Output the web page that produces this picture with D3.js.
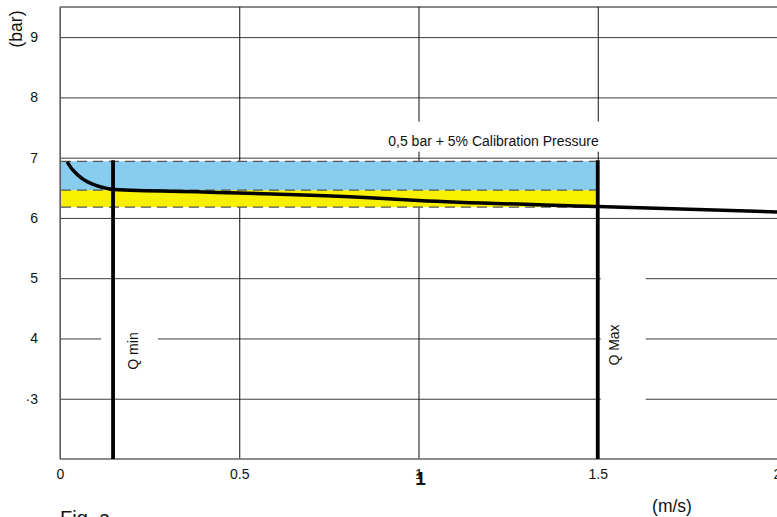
<!DOCTYPE html>
<html lang="en">
<head>
<meta charset="UTF-8">
<title>Calibration Pressure</title>
<script src="https://cdn.jsdelivr.net/npm/d3@7"></script>
<style>
    body { margin: 0; background: #fff; }
    svg text { font-family: "Liberation Sans", Arial, sans-serif; fill: #111; }
    .grid path { display: none; }
    .gridY line { stroke: #3a3a3a; stroke-width: 1; }
    .gridX line { stroke: #111; stroke-width: 1; }
    .grid text { font-size: 14px; font-family: "Liberation Sans", Arial, sans-serif; }
</style>
</head>
<body>
<svg width="777" height="517"></svg>
<script>
    // tick values and labels
    var xTicks = [0, 0.5, 1, 1.5, 2];
    var xTickLabels = ["0", "0.5", "1", "1.5", "2"];
    var yTicks = [3, 4, 5, 6, 7, 8, 9];
    var yTickLabels = ["\u00b73", "4", "5", "6", "7", "8", "9"];

    // pressure curve (m/s -> bar)
    var speed = [0.02, 0.035, 0.05, 0.065, 0.08, 0.1, 0.13, 0.15, 0.4, 0.85, 1.0, 1.5, 2.0];
    var pressure = [6.93, 6.80, 6.71, 6.64, 6.59, 6.54, 6.49, 6.47, 6.43, 6.34, 6.29, 6.19, 6.10];

    // tolerance bands (bar)
    var bandNames = ["blue", "yellow"];
    var bandLow = [6.46, 6.18];
    var bandHigh = [6.94, 6.46];
    var bandColors = ["#88cdef", "#f7f000"];
    var dashLevels = [6.94, 6.46, 6.18];

    // flow limits
    var qNames = ["Q min", "Q Max"];
    var qSpeed = [0.148, 1.5];

    var svg = d3.select("svg");
    var mLeft = 60, mRight = 777, mTop = 7, mBottom = 459;

    var x = d3.scaleLinear().domain([0, 2]).range([mLeft, mRight]);
    var y = d3.scaleLinear().domain([2, 9.5]).range([mBottom, mTop]);

    // grid + tick labels
    svg.append("g")
        .attr("class", "grid gridY")
        .attr("transform", "translate(" + mLeft + ",0)")
        .call(d3.axisLeft(y)
            .tickValues(yTicks)
            .tickFormat(function (d, i) { return yTickLabels[i]; })
            .tickSize(-(mRight - mLeft))
            .tickPadding(22))
        .attr("font-size", 14)
        .attr("font-family", null);
    svg.append("g")
        .attr("class", "grid gridX")
        .attr("transform", "translate(0," + mBottom + ")")
        .call(d3.axisBottom(x)
            .tickValues(xTicks)
            .tickFormat(function (d, i) { return xTickLabels[i]; })
            .tickSize(-(mBottom - mTop))
            .tickPadding(10))
        .attr("font-size", 14)
        .attr("font-family", null);

    // frame
    svg.append("line").attr("x1", mLeft).attr("x2", mRight).attr("y1", mTop).attr("y2", mTop)
        .attr("stroke", "#111").attr("stroke-width", 1.2);
    svg.append("line").attr("x1", mLeft).attr("x2", mLeft).attr("y1", mTop).attr("y2", mBottom)
        .attr("stroke", "#777").attr("stroke-width", 1.5);
    svg.append("line").attr("x1", mLeft).attr("x2", mRight).attr("y1", mBottom).attr("y2", mBottom)
        .attr("stroke", "#666").attr("stroke-width", 1.5);

    // white label backgrounds hiding the grid
    var boxes = svg.append("g");
    boxes.append("rect")
        .attr("x", x(1.5) - 221).attr("y", y(7) - 36)
        .attr("width", 227).attr("height", 30)
        .attr("fill", "#fff");
    boxes.append("rect")
        .attr("x", x(qSpeed[0]) - 12).attr("y", y(4) - 29)
        .attr("width", 57).attr("height", 75)
        .attr("fill", "#fff");
    boxes.append("rect")
        .attr("x", x(qSpeed[1]) + 3).attr("y", y(5) - 29)
        .attr("width", 45).attr("height", 170)
        .attr("fill", "#fff");

    // bands
    svg.selectAll(".band")
        .data(bandNames)
        .enter()
        .append("rect")
        .attr("class", "band")
        .attr("x", x(0) + 1)
        .attr("y", function (d, i) { return y(bandHigh[i]); })
        .attr("width", x(qSpeed[1]) - x(0) - 1)
        .attr("height", function (d, i) { return y(bandLow[i]) - y(bandHigh[i]); })
        .attr("fill", function (d, i) { return bandColors[i]; });

    svg.selectAll(".dash")
        .data(dashLevels)
        .enter()
        .append("line")
        .attr("x1", x(0) + 1)
        .attr("x2", x(qSpeed[1]))
        .attr("y1", function (d) { return y(d); })
        .attr("y2", function (d) { return y(d); })
        .attr("stroke", "#555")
        .attr("stroke-width", 1.2)
        .attr("stroke-dasharray", "10,6");

    // pressure curve
    var line = d3.line()
        .x(function (d, i) { return x(speed[i]); })
        .y(function (d) { return y(d); })
        .curve(d3.curveMonotoneX);
    svg.append("path")
        .datum(pressure)
        .attr("d", line)
        .attr("fill", "none")
        .attr("stroke", "#000")
        .attr("stroke-width", 3.5);

    // flow limit lines
    svg.selectAll(".qline")
        .data(qSpeed)
        .enter()
        .append("line")
        .attr("x1", function (d) { return x(d); })
        .attr("x2", function (d) { return x(d); })
        .attr("y1", y(bandHigh[0]) - 1)
        .attr("y2", mBottom)
        .attr("stroke", "#000")
        .attr("stroke-width", 3.8);

    svg.selectAll(".qlabel")
        .data(qNames)
        .enter()
        .append("text")
        .attr("transform", function (d, i) {
            var cx = x(qSpeed[i]) + (i === 0 ? 25 : 21);
            var cy = i === 0 ? 351 : 345;
            return "translate(" + cx + "," + cy + ") rotate(-90)";
        })
        .attr("text-anchor", "middle")
        .style("font-size", "14px")
        .text(function (d) { return d; });

    // annotation
    svg.append("text")
        .attr("x", x(1.5) + 1)
        .attr("y", y(7) - 12)
        .attr("text-anchor", "end")
        .style("font-size", "14px")
        .text("0,5 bar + 5% Calibration Pressure");

    // axis titles
    svg.append("text")
        .attr("transform", "translate(22,29) rotate(-90)")
        .attr("text-anchor", "middle")
        .style("font-size", "17.5px")
        .text("(bar)");
    svg.append("text")
        .attr("x", 672)
        .attr("y", 512)
        .attr("text-anchor", "middle")
        .style("font-size", "17.5px")
        .text("(m/s)");

    // stray bold "1" under the x tick
    svg.append("text")
        .attr("x", x(1) + 2)
        .attr("y", 485)
        .attr("text-anchor", "middle")
        .style("font-size", "19px")
        .style("font-weight", "bold")
        .text("1");

    svg.append("text")
        .attr("x", 60)
        .attr("y", 525)
        .style("font-size", "20px")
        .text("Fig. a");
</script>
</body>
</html>
